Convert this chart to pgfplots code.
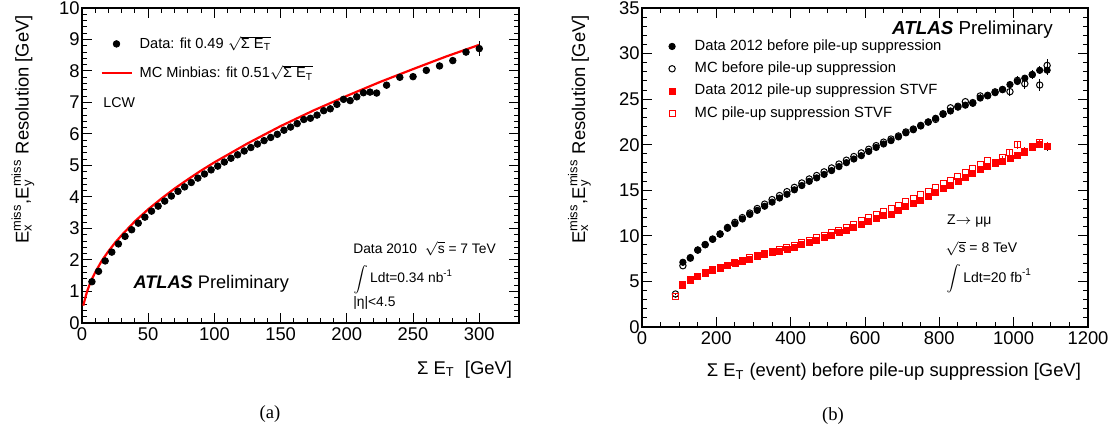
\documentclass[border=0pt]{standalone}
\usepackage{fontspec}
\setmainfont{Liberation Sans}
\newfontfamily\serifa{Liberation Serif}
\usepackage{amsmath}
\usepackage{pgfplots}
\pgfplotsset{compat=1.18}
\newcommand{\fs}[1]{\fontsize{#1}{#1}\selectfont}
\newcommand{\bigint}{{\fs{6.4}$\displaystyle\int$}}
\pgfplotsset{
  rootax/.style={
    scale only axis,
    axis line style={line width=0.9pt},
    major tick length=5pt,
    minor tick length=2.6pt,
    every tick/.append style={line width=0.5pt, black},
    tick label style={font=\fs{9.2}},
    label style={font=\fs{9.2}},
    /pgf/number format/assume math mode=true,
    /pgf/number format/1000 sep={},
    yticklabel style={inner sep=1pt},
    xticklabel style={inner sep=2.3pt},
  }
}
\begin{document}
\begin{tikzpicture}
\path[use as bounding box] (0pt,0pt) rectangle (559.5pt,216pt);
% ---------------- (a) ----------------
\begin{axis}[rootax, at={(41pt,54.5pt)}, anchor=south west, width=218.5pt, height=157.5pt,
  xmin=0, xmax=330, ymin=0, ymax=10,
  xtick={0,50,...,300}, ytick={0,1,...,10}, minor x tick num=4, minor y tick num=4,
  xlabel={Σ E$_{\text{T}}$\ \ [GeV]},
  ylabel={$\text{E}_{\text{x}}^{\text{miss}}$,$\text{E}_{\text{y}}^{\text{miss}}$ Resolution [GeV]},
  xlabel style={at={(axis description cs:1,-0.162)}, anchor=base east},
  ylabel style={at={(axis description cs:-0.1224,1)}, anchor=base east},
  legend style={at={(axis description cs:0.0412,0.918)}, anchor=north west, draw=none, fill=none,
    font=\fs{7.3}, inner sep=0pt, row sep=5pt, nodes={inner sep=1pt},
    /tikz/every odd column/.append style={column sep=2.5pt}},
  legend cell align=left,
]
\addlegendimage{legend image code/.code={\draw[mark=*,mark size=1.65pt,black,mark options={black}] plot coordinates {(7.5pt,0pt)};}}
\addlegendentry{Data: fit 0.49 $\sqrt{\text{Σ E}_{\text{T}}}$}
\addplot[red, line width=1.1pt, legend image code/.code={\draw[red,line width=1.1pt] (0pt,0pt)--(15pt,0pt);}]
coordinates {(1,0.55) (2,0.72) (3,0.88) (4,1.02) (6,1.25) (8,1.44) (10,1.61) (15,1.98) (20,2.28) (25,2.55) (30,2.79) (40,3.23) (50,3.61) (60,3.95) (70,4.27) (80,4.56) (90,4.84) (100,5.10) (125,5.70) (150,6.25) (175,6.75) (200,7.21) (225,7.65) (250,8.06) (275,8.46) (300,8.83)};
\addlegendentry{MC Minbias: fit 0.51$\sqrt{\text{Σ E}_{\text{T}}}$}
\addplot[only marks, mark=*, mark size=1.65pt, black, mark options={black}, forget plot,
  error bars/.cd, y dir=both, y explicit, error mark=none, error bar style={line width=0.5pt}]
table[x index=0, y index=1, y error index=2] {
7.5 1.31 0
12.5 1.64 0
17.5 1.97 0
22.5 2.25 0
27.5 2.51 0
32.5 2.75 0
37.5 2.96 0
42.5 3.17 0
47.5 3.36 0
52.5 3.55 0
57.5 3.71 0
62.5 3.87 0
67.5 4.03 0
72.5 4.18 0
77.5 4.32 0
82.5 4.46 0
87.5 4.60 0
92.5 4.73 0
97.5 4.86 0
102.5 4.98 0
107.5 5.11 0
112.5 5.23 0
117.5 5.34 0
122.5 5.46 0
127.5 5.57 0
132.5 5.68 0
137.5 5.79 0
142.5 5.89 0
147.5 5.99 0
152.5 6.12 0
157.5 6.22 0
162.5 6.33 0
167.5 6.46 0
172.5 6.50 0
177.5 6.60 0
182.5 6.74 0
187.5 6.80 0
192.5 6.94 0
197.5 7.10 0
202.5 7.06 0
207.5 7.18 0
212.5 7.31 0
217.5 7.33 0
222.5 7.30 0
230 7.55 0
240 7.80 0
250 7.82 0
260 8.02 0
270 8.16 0
280 8.33 0
290 8.60 0
300 8.71 0.25
};
\node[anchor=base west, font=\fs{7.1}, inner sep=0pt] at (axis description cs:0.048,0.683) {LCW};
\node[anchor=base west, font=\fs{9.1}, inner sep=0pt] at (axis description cs:0.117,0.111) {\textbf{\textit{ATLAS}} Preliminary};
\node[anchor=base west, font=\fs{6.9}, inner sep=0pt] at (axis description cs:0.620,0.222) {Data 2010\ \ $\sqrt{\text{s}}$ = 7 TeV};
\node[anchor=base west, font=\fs{6.9}, inner sep=0pt] at (axis description cs:0.620,0.127) {\bigint\,Ldt=0.34 nb\textsuperscript{-1}};
\node[anchor=base west, font=\fs{6.9}, inner sep=0pt] at (axis description cs:0.620,0.051) {|η|<4.5};
\end{axis}
% ---------------- (b) ----------------
\begin{axis}[rootax, at={(321pt,52.5pt)}, anchor=south west, width=223pt, height=159.5pt,
  xmin=0, xmax=1200, ymin=0, ymax=35,
  xtick={0,200,...,1200}, ytick={0,5,...,35}, minor x tick num=3, minor y tick num=4,
  xlabel={Σ E$_{\text{T}}$ (event) before pile-up suppression [GeV]},
  ylabel={$\text{E}_{\text{x}}^{\text{miss}}$,$\text{E}_{\text{y}}^{\text{miss}}$ Resolution [GeV]},
  xlabel style={at={(axis description cs:1,-0.156)}, anchor=base east},
  ylabel style={at={(axis description cs:-0.1278,1)}, anchor=base east},
  legend style={at={(axis description cs:0.0594,0.9085)}, anchor=north west, draw=none, fill=none,
    font=\fs{7.4}, inner sep=0pt, row sep=2.3pt, nodes={inner sep=1pt},
    /tikz/every odd column/.append style={column sep=8.7pt}},
  legend cell align=left,
]
\addlegendimage{legend image code/.code={\draw[mark=*,mark size=1.6pt,black,mark options={black}] plot coordinates {(0pt,0pt)};}}
\addlegendentry{Data 2012 before pile-up suppression}
\addlegendimage{legend image code/.code={\draw[mark=o,mark size=1.6pt,black,mark options={black,line width=0.5pt}] plot coordinates {(0pt,0pt)};}}
\addlegendentry{MC before pile-up suppression}
\addlegendimage{legend image code/.code={\draw[mark=square*,mark size=1.5pt,red,mark options={red}] plot coordinates {(0pt,0pt)};}}
\addlegendentry{Data 2012 pile-up suppression STVF}
\addlegendimage{legend image code/.code={\draw[mark=square,mark size=1.5pt,red,mark options={red,line width=0.5pt}] plot coordinates {(0pt,0pt)};}}
\addlegendentry{MC pile-up suppression STVF}
% MC before (open black)
\addplot[only marks, mark=o, mark size=1.6pt, black, mark options={black,line width=0.5pt}, forget plot,
  error bars/.cd, y dir=both, y explicit, error mark=none, error bar style={line width=0.5pt}]
table[x index=0, y index=1, y error index=2] {
90 3.62 0.15
110 6.72 0
130 7.55 0
150 8.45 0
170 9.05 0
190 9.65 0
210 10.22 0
230 10.92 0
250 11.48 0
270 12.00 0
290 12.50 0
310 13.00 0
330 13.48 0
350 13.98 0
370 14.42 0
390 14.85 0
410 15.32 0
430 15.80 0
450 16.24 0
470 16.62 0
490 17.02 0
510 17.45 0
530 17.88 0
550 18.30 0
570 18.70 0
590 19.10 0
610 19.50 0
630 19.90 0
650 20.28 0
670 20.62 0
690 20.96 0
710 21.40 0
730 21.72 0
750 22.12 0
770 22.48 0
790 22.78 0
810 23.40 0
830 24.05 0
850 24.22 0
870 24.72 0
890 24.62 0
910 25.35 0.2
930 25.42 0.2
950 25.80 0.25
970 26.05 0.3
990 25.82 0.5
1010 27.06 0.45
1030 26.69 0.55
1050 27.70 0.5
1070 26.55 0.65
1090 28.70 0.7
};
% Data before (filled black)
\addplot[only marks, mark=*, mark size=1.6pt, black, mark options={black}, forget plot,
  error bars/.cd, y dir=both, y explicit, error mark=none, error bar style={line width=0.5pt}]
table[x index=0, y index=1, y error index=2] {
110 7.10 0
130 7.62 0
150 8.43 0
170 9.02 0
190 9.62 0
210 10.17 0
230 10.83 0
250 11.33 0
270 11.85 0
290 12.35 0
310 12.80 0
330 13.25 0
350 13.70 0
370 14.15 0
390 14.56 0
410 15.05 0
430 15.52 0
450 15.98 0
470 16.36 0
490 16.74 0
510 17.16 0
530 17.60 0
550 18.03 0
570 18.43 0
590 18.80 0
610 19.26 0
630 19.70 0
650 20.08 0
670 20.45 0
690 20.86 0
710 21.30 0
730 21.64 0
750 22.05 0
770 22.50 0
790 22.90 0
810 23.33 0
830 23.70 0
850 24.12 0
870 24.34 0
890 24.54 0
910 25.12 0
930 25.36 0
950 25.71 0.2
970 26.06 0.2
990 26.60 0.3
1010 26.94 0.3
1030 27.30 0.35
1050 27.68 0.4
1070 28.16 0.45
1090 28.18 0.5
};
% MC STVF (open red)
\addplot[only marks, mark=square, mark size=1.5pt, red, mark options={red,line width=0.5pt}, forget plot,
  error bars/.cd, y dir=both, y explicit, error mark=none, error bar style={line width=0.5pt,red}]
table[x index=0, y index=1, y error index=2] {
90 3.30 0.15
110 4.62 0
130 5.18 0
150 5.58 0
170 5.95 0
190 6.27 0
210 6.53 0
230 6.80 0
250 7.06 0
270 7.31 0
290 7.57 0
310 7.82 0
330 8.07 0
350 8.27 0
370 8.48 0
390 8.72 0
410 8.97 0
430 9.22 0
450 9.48 0
470 9.78 0
490 10.07 0
510 10.37 0
530 10.64 0
550 10.97 0
570 11.30 0
590 11.63 0
610 11.97 0
630 12.32 0
650 12.66 0
670 12.98 0
690 13.38 0
710 13.72 0
730 14.12 0
750 14.52 0
770 14.92 0
790 15.32 0
810 15.72 0
830 16.12 0
850 16.56 0
870 16.96 0
890 17.36 0
910 17.80 0
930 18.22 0
950 18.10 0.2
970 18.56 0.25
990 19.10 0.3
1010 20.00 0.45
1030 19.30 0.4
1050 19.75 0.35
1070 20.22 0.45
1090 19.80 0.45
};
% Data STVF (filled red)
\addplot[only marks, mark=square*, mark size=1.5pt, red, mark options={red}, forget plot,
  error bars/.cd, y dir=both, y explicit, error mark=none, error bar style={line width=0.5pt,black}]
table[x index=0, y index=1, y error index=2] {
110 4.55 0
130 5.12 0
150 5.52 0
170 5.88 0
190 6.20 0
210 6.45 0
230 6.72 0
250 6.97 0
270 7.22 0
290 7.46 0
310 7.72 0
330 7.96 0
350 8.15 0
370 8.30 0
390 8.54 0
410 8.77 0
430 9.03 0
450 9.26 0
470 9.55 0
490 9.81 0
510 10.08 0
530 10.33 0
550 10.64 0
570 10.93 0
590 11.25 0
610 11.55 0
630 11.88 0
650 12.20 0
670 12.40 0
690 12.82 0
710 13.18 0
730 13.55 0
750 13.91 0
770 14.38 0
790 14.75 0
810 15.18 0
830 15.55 0
850 16.01 0
870 16.45 0
890 16.82 0
910 17.29 0
930 17.65 0
950 17.95 0.2
970 18.15 0.2
990 18.45 0.25
1010 18.80 0.3
1030 19.20 0.3
1050 19.65 0.35
1070 20.00 0.4
1090 19.78 0.45
};
\node[anchor=base west, font=\fs{9.4}, inner sep=0pt] at (axis description cs:0.560,0.9175) {\textbf{\textit{ATLAS}} Preliminary};
\node[anchor=base west, font=\fs{7}, inner sep=0pt] at (axis description cs:0.683,0.320) {Z$\rightarrow$ μμ};
\node[anchor=base west, font=\fs{7}, inner sep=0pt] at (axis description cs:0.6794,0.232) {$\sqrt{\text{s}}$ = 8 TeV};
\node[anchor=base west, font=\fs{7}, inner sep=0pt] at (axis description cs:0.6816,0.141) {\bigint\,Ldt=20 fb\textsuperscript{-1}};
\end{axis}
\node[font=\serifa\fs{9.3}, anchor=base] at (135pt,6.5pt) {(a)};
\node[font=\serifa\fs{9.3}, anchor=base] at (416.5pt,5.5pt) {(b)};
\end{tikzpicture}
\end{document}
